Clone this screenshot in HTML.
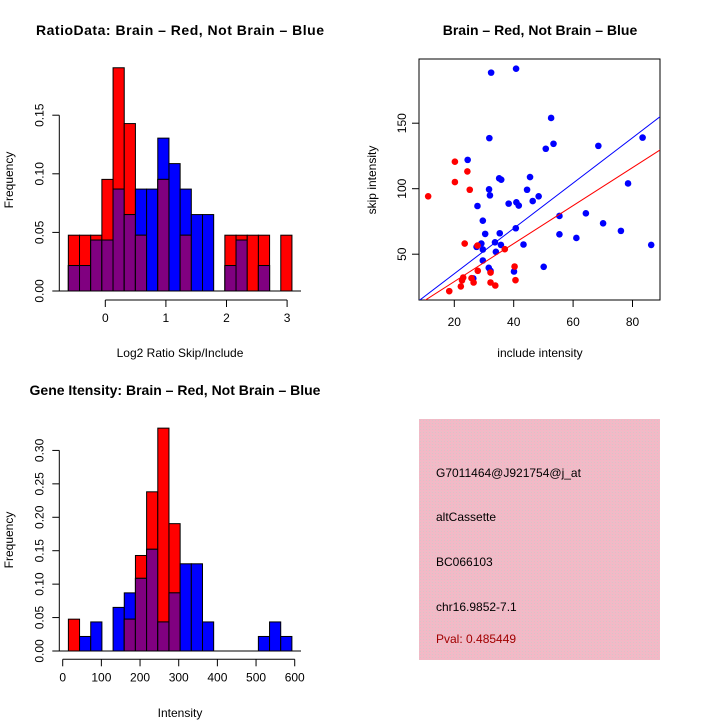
<!DOCTYPE html>
<html><head><meta charset="utf-8"><style>
body{margin:0;background:#fff}
svg{display:block;font-family:"Liberation Sans",Arial,sans-serif}
</style></head><body>
<svg id="s" width="720" height="720" viewBox="0 0 720 720">
<rect width="720" height="720" fill="#fff"/>
<text x="180" y="35" font-size="14" font-weight="bold" text-anchor="middle" textLength="288">RatioData: Brain – Red, Not Brain – Blue</text>
<text x="540" y="35" font-size="14" font-weight="bold" text-anchor="middle">Brain – Red, Not Brain – Blue</text>
<text x="175" y="395" font-size="14" font-weight="bold" text-anchor="middle">Gene Itensity: Brain – Red, Not Brain – Blue</text>
<text x="180" y="357" font-size="12" text-anchor="middle">Log2 Ratio Skip/Include</text>
<text x="13" y="180" font-size="12" text-anchor="middle" transform="rotate(-90 13 180)">Frequency</text>
<text x="180" y="717" font-size="12" text-anchor="middle">Intensity</text>
<text x="13" y="540" font-size="12" text-anchor="middle" transform="rotate(-90 13 540)">Frequency</text>
<text x="540" y="357" font-size="12" text-anchor="middle">include intensity</text>
<text x="376" y="180" font-size="12" text-anchor="middle" transform="rotate(-90 376 180)">skip intensity</text>
<defs><pattern id="hp" width="3" height="3" patternUnits="userSpaceOnUse"><rect width="3" height="3" fill="#f4b8c6"/><rect width="1" height="1" fill="#d8c4c8"/><rect x="2" y="2" width="1" height="1" fill="#e6c2ca"/></pattern></defs>
<g>
<rect x="419" y="419" width="241" height="241" fill="url(#hp)"/>
<text x="436" y="477" font-size="12">G7011464@J921754@j_at</text>
<text x="436" y="521" font-size="12">altCassette</text>
<text x="436" y="566" font-size="12">BC066103</text>
<text x="436" y="611" font-size="12">chr16.9852-7.1</text>
<text x="436" y="643" font-size="12" fill="#a00000">Pval: 0.485449</text>
</g>
<g id="g1"></g><g id="g2"></g><g id="g3"></g>
</svg>
<script>
// Ratio histogram data (counts per bin)
const ratioBreakStart = -0.61, ratioBinWidth = 0.1845;
const ratioRedCounts = [1,1,1,2,4,3,1,0,2,0,1,0,0,0,1,1,1,1,0,1];
const ratioBlueCounts = [1,1,2,2,4,3,4,4,6,5,4,3,3,0,1,2,0,1,0,0];
const ratioRedTotal = 21, ratioBlueTotal = 46;
const ratioXTicks = [0,1,2,3];
const ratioYTicks = [0,0.05,0.10,0.15];
const ratioYLabels = ["0.00","0.05","0.10","0.15"];
// Intensity histogram data
const intBreakStart = 14.7, intBinWidth = 28.9;
const intRedCounts = [1,0,0,0,0,1,3,5,7,4,0,0,0,0,0,0,0,0,0,0];
const intBlueCounts = [0,1,2,0,3,4,5,7,2,4,6,6,2,0,0,0,0,1,2,1];
const intRedTotal = 21, intBlueTotal = 46;
const intXTicks = [0,100,200,300,400,500,600];
const intYTicks = [0,0.05,0.10,0.15,0.20,0.25,0.30];
const intYLabels = ["0.00","0.05","0.10","0.15","0.20","0.25","0.30"];
// Scatter data
const blueX = [32.4,40.8,52.6,31.8,53.4,50.8,24.5,83.4,68.5,78.5,35.1,35.8,45.5,31.7,32.0,44.5,48.4,27.8,38.3,40.9,41.7,46.4,29.6,55.4,64.3,30.4,35.3,40.7,55.4,61.1,70.1,76.1,86.3,29.1,27.5,29.6,33.7,35.7,43.3,34.0,29.6,31.6,32.2,40.1,50.1,26.4];
const blueY = [188.6,191.6,154,138.6,134.3,130.5,122,139,132.7,104,107.9,106.9,108.9,99.5,94.9,99.2,94.2,86.8,88.6,89.6,87.1,90.6,75.6,79.2,81.2,65.5,66,69.8,65.2,62.4,73.6,67.8,57.1,58.1,55.6,53.6,59.1,57.1,57.4,51.8,45.2,39.6,37.3,36.8,40.4,31.5];
const redX = [11.2,20.2,24.4,20.2,25.2,23.5,27.8,37.0,27.9,40.3,40.6,23.0,22.6,25.8,26.5,32.2,32.2,33.8,22.2,18.3];
const redY = [94.2,120.6,113.2,105.1,99.2,58.1,56.6,53.8,37.3,40.6,30.2,32.2,30.0,31.7,28.4,36.0,28.4,26.1,25.4,21.8];
const blueFit = [0.5,1.73];
const redFit = [0.1,1.45];
const scatterXTicks = [20,40,60,80];
const scatterYTicks = [50,100,150];

const NS="http://www.w3.org/2000/svg";
function mk(p,t,a){const e=document.createElementNS(NS,t);for(const k in a)e.setAttribute(k,a[k]);p.appendChild(e);return e;}

function hist(g,o){
  const X=v=>o.x0+(v-o.xv0)*o.xs, Y=v=>o.y0-v*o.ys;
  for(let i=0;i<o.red.length;i++){
    const r=o.red[i]/o.rt, b=o.blue[i]/o.bt;
    const l=X(o.bs+i*o.bw), w=o.bw*o.xs;
    const bars=[[r,'#ff0000','bar-red-'+i],[b,'#0000ff','bar-blue-'+i]].sort((p,q)=>q[0]-p[0]);
    for(const [v,c,n] of bars){ if(v<=0) continue;
      const e=mk(g,'rect',{x:l,y:Y(v),width:w,height:Y(0)-Y(v),fill:c,stroke:'#000','stroke-width':1});
      
      
    }
    const m=Math.min(r,b);
    if(m>0){const e=mk(g,'rect',{x:l,y:Y(m),width:w,height:Y(0)-Y(m),fill:'#800080',stroke:'#000','stroke-width':1});
      
      }
  }
  mk(g,'line',{x1:59,x2:301,y1:Y(0),y2:Y(0),stroke:'#000'});
  const ya=mk(g,'line',{x1:o.yax,x2:o.yax,y1:Y(o.yt[0]),y2:Y(o.yt[o.yt.length-1]),stroke:'#000'});
  
  
  o.yt.forEach((v,i)=>{mk(g,'line',{x1:o.yax-7,x2:o.yax,y1:Y(v),y2:Y(v),stroke:'#000'});
    const t=mk(g,'text',{x:0,y:0,'font-size':12,'text-anchor':'middle',transform:`translate(${o.yax-16},${Y(v)}) rotate(-90)`});
    t.textContent=o.yl[i];
    
    });
  const xa=mk(g,'line',{x1:X(o.xt[0]),x2:X(o.xt[o.xt.length-1]),y1:o.xay,y2:o.xay,stroke:'#000'});
  
  
  o.xt.forEach(v=>{mk(g,'line',{x1:X(v),x2:X(v),y1:o.xay,y2:o.xay+7,stroke:'#000'});
    const t=mk(g,'text',{x:X(v),y:o.xay+22,'font-size':12,'text-anchor':'middle'});t.textContent=v;
    
    });
}
hist(document.getElementById('g1'),{x0:105.3,xv0:0,xs:60.6,y0:291,ys:58.6/0.05,bs:ratioBreakStart,bw:ratioBinWidth,
  red:ratioRedCounts,blue:ratioBlueCounts,rt:ratioRedTotal,bt:ratioBlueTotal,yt:ratioYTicks,yl:ratioYLabels,xt:ratioXTicks,yax:59.3,xay:300});
hist(document.getElementById('g2'),{x0:62.7,xv0:0,xs:38.67/100,y0:651,ys:33.43/0.05,bs:intBreakStart,bw:intBinWidth,
  red:intRedCounts,blue:intBlueCounts,rt:intRedTotal,bt:intBlueTotal,yt:intYTicks,yl:intYLabels,xt:intXTicks,yax:59.3,xay:659.3});

// scatter
(function(){
  const g=document.getElementById('g3');
  const X=v=>454.3+(v-20)*2.97, Y=v=>188.7-(v-100)*1.31;
  const cp=mk(g,'clipPath',{id:'cp'});mk(cp,'rect',{x:419,y:59,width:241,height:241});
  const fr=mk(g,'rect',{x:419,y:59,width:241,height:241,fill:'none',stroke:'#000'});
  
  
  blueX.forEach((x,i)=>{const c=mk(g,'circle',{cx:X(x),cy:Y(blueY[i]),r:3.3,fill:'#0000ff'});
    
    });
  redX.forEach((x,i)=>{const c=mk(g,'circle',{cx:X(x),cy:Y(redY[i]),r:3.3,fill:'#ff0000'});
    
    });
  [[blueFit,'#0000ff','fit-line-blue'],[redFit,'#ff0000','fit-line-red']].forEach(([f,c,n])=>{
    const l=mk(g,'line',{x1:X(0),y1:Y(f[0]),x2:X(100),y2:Y(f[0]+f[1]*100),stroke:c,'stroke-width':1,'clip-path':'url(#cp)'});
    
    });
  scatterXTicks.forEach(v=>{mk(g,'line',{x1:X(v),x2:X(v),y1:300,y2:307,stroke:'#000'});
    const t=mk(g,'text',{x:X(v),y:326,'font-size':12,'text-anchor':'middle'});t.textContent=v;
    
    });
  scatterYTicks.forEach(v=>{mk(g,'line',{x1:412,x2:419,y1:Y(v),y2:Y(v),stroke:'#000'});
    const t=mk(g,'text',{x:0,y:0,'font-size':12,'text-anchor':'middle',transform:`translate(406,${Y(v)}) rotate(-90)`});t.textContent=v;
    
    });
})();
</script>
</body></html>
